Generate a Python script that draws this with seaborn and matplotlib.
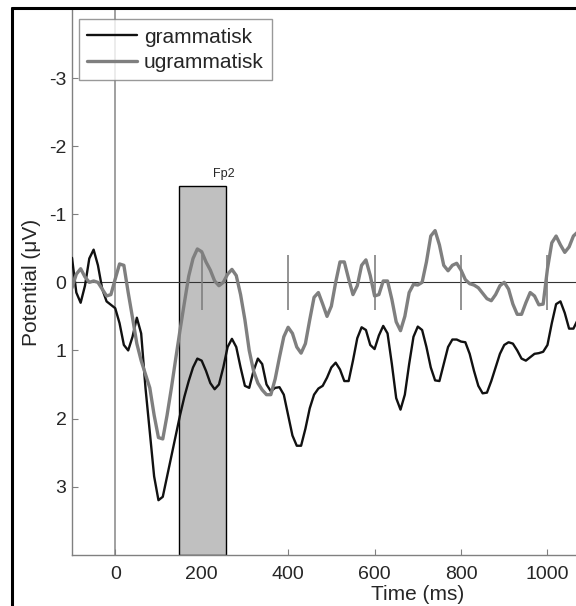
import numpy as np
import pandas as pd
import matplotlib.pyplot as plt
from matplotlib.patches import Rectangle
from matplotlib.lines import Line2D
import seaborn as sns

# temps (ms), un point tous les 10 ms
temps = list(range(-100, 1080, 10))

# grammatisk (ligne noire)
grammatisk = [
    -0.36, 0.15, 0.30, 0.05, -0.35, -0.48, -0.25, 0.10, 0.28, 0.33,
    0.38, 0.60, 0.92, 1.00, 0.80, 0.52, 0.75, 1.55, 2.20, 2.85,
    3.20, 3.15, 2.85, 2.55, 2.25, 1.95, 1.68, 1.45, 1.25, 1.12,
    1.15, 1.30, 1.48, 1.57, 1.50, 1.25, 0.95, 0.83, 0.95, 1.25,
    1.52, 1.55, 1.30, 1.12, 1.20, 1.50, 1.60, 1.55, 1.54, 1.65,
    1.95, 2.25, 2.40, 2.40, 2.15, 1.85, 1.65, 1.56, 1.52, 1.40,
    1.25, 1.18, 1.28, 1.45, 1.45, 1.15, 0.82, 0.66, 0.70, 0.92,
    0.98, 0.78, 0.64, 0.75, 1.20, 1.70, 1.87, 1.65, 1.20, 0.80,
    0.65, 0.70, 0.95, 1.25, 1.44, 1.45, 1.20, 0.95, 0.84, 0.84,
    0.87, 0.88, 1.05, 1.30, 1.52, 1.63, 1.62, 1.45, 1.25, 1.05,
    0.92, 0.88, 0.90, 1.00, 1.12, 1.15, 1.10, 1.05, 1.04, 1.02,
    0.92, 0.60, 0.32, 0.28, 0.45, 0.68, 0.68, 0.55,
]

# ugrammatisk (ligne grise)
ugrammatisk = [
    0.08, -0.12, -0.20, -0.08, 0.00, -0.02, 0.00, 0.10, 0.20, 0.18,
    -0.05, -0.27, -0.25, 0.15, 0.52, 0.90, 1.15, 1.35, 1.55, 1.95,
    2.28, 2.30, 1.95, 1.55, 1.12, 0.70, 0.30, -0.09, -0.35, -0.49,
    -0.45, -0.30, -0.18, -0.02, 0.05, 0.00, -0.12, -0.19, -0.10, 0.18,
    0.55, 1.00, 1.30, 1.48, 1.58, 1.65, 1.65, 1.42, 1.10, 0.80,
    0.66, 0.75, 0.95, 1.04, 0.90, 0.55, 0.22, 0.15, 0.32, 0.50,
    0.35, 0.00, -0.30, -0.30, -0.05, 0.18, 0.05, -0.25, -0.33, -0.10,
    0.20, 0.18, -0.02, -0.02, 0.25, 0.58, 0.71, 0.50, 0.15, 0.03,
    0.04, 0.00, -0.30, -0.68, -0.76, -0.55, -0.25, -0.17, -0.25, -0.28,
    -0.18, -0.04, 0.02, 0.04, 0.08, 0.16, 0.24, 0.27, 0.18, 0.05,
    0.00, 0.10, 0.32, 0.47, 0.47, 0.30, 0.15, 0.20, 0.33, 0.32,
    -0.20, -0.58, -0.68, -0.55, -0.44, -0.52, -0.68, -0.74,
]

# fenetre grisee (Fp2)
fenetre_debut = 148
fenetre_fin = 257
fenetre_haut = -1.42
repere_temps = [200, 400, 600, 800, 1000]

df = pd.DataFrame({
    "temps": temps * 2,
    "potentiel": grammatisk + ugrammatisk,
    "condition": ["grammatisk"] * len(temps) + ["ugrammatisk"] * len(temps),
})

sns.set_style("white")
plt.rcParams["font.family"] = ["Liberation Sans", "DejaVu Sans"]
plt.rcParams["axes.unicode_minus"] = False
plt.rcParams["lines.solid_joinstyle"] = "round"
plt.rcParams["lines.solid_capstyle"] = "round"

fig, ax = plt.subplots(figsize=(5.76, 6.06), dpi=100)
ax.set_position([0.125, 0.0847, 0.875, 0.8988])

# cadre de l'image (coin haut gauche)
fig.add_artist(Line2D([0.0208, 0.0208], [0, 0.986], color="black", lw=2.2, transform=fig.transFigure))
fig.add_artist(Line2D([0.0208, 1], [0.986, 0.986], color="black", lw=2.2, transform=fig.transFigure))

ax.add_patch(Rectangle((fenetre_debut, fenetre_haut), fenetre_fin - fenetre_debut, 4 - fenetre_haut,
                       facecolor="#c0c0c0", edgecolor="black", lw=1, zorder=1))
ax.text(fenetre_debut + 78, fenetre_haut - 0.12, "Fp2", fontsize=9, ha="left", va="baseline")

ax.axvline(0, color="#a0a0a0", lw=1.4, zorder=0.5)
ax.axhline(0, color="#333333", lw=0.8, zorder=2)
ax.vlines(repere_temps, -0.4, 0.4, color="#808080", lw=1.2, zorder=2)

sns.lineplot(data=df, x="temps", y="potentiel", hue="condition",
             palette={"grammatisk": "#111111", "ugrammatisk": "#7f7f7f"},
             size="condition", sizes={"grammatisk": 1.7, "ugrammatisk": 2.4},
             ax=ax, zorder=3)

ax.set_xlim(-100, 1066)
ax.set_ylim(4, -4)
ax.set_xticks([0, 200, 400, 600, 800, 1000])
ax.set_yticks([-3, -2, -1, 0, 1, 2, 3])
ax.tick_params(axis="both", direction="in", length=4, color="#808080", labelsize=14,
               bottom=True, left=True)
ax.tick_params(axis="x", pad=8)
ax.tick_params(axis="y", pad=4)
for s in ["top", "right"]:
    ax.spines[s].set_visible(False)
for s in ["left", "bottom"]:
    ax.spines[s].set_color("#808080")
    ax.spines[s].set_linewidth(1)

ax.set_xlabel("Time (ms)", fontsize=15)
ax.set_ylabel("Potential (μV)", fontsize=15)
ax.xaxis.set_label_coords(0.685, -0.055)
ax.yaxis.set_label_coords(-0.062, 0.5)

handles, labels = ax.get_legend_handles_labels()
leg = ax.legend(handles, labels, loc="upper left", bbox_to_anchor=(0.014, 0.983), borderaxespad=0,
                fontsize=15, frameon=True, fancybox=False, handlelength=2.4, handletextpad=0.3,
                borderpad=0.4, labelspacing=0.3)
leg.get_frame().set_edgecolor("#808080")
leg.get_frame().set_linewidth(1)

plt.savefig("out.png", dpi=100)
